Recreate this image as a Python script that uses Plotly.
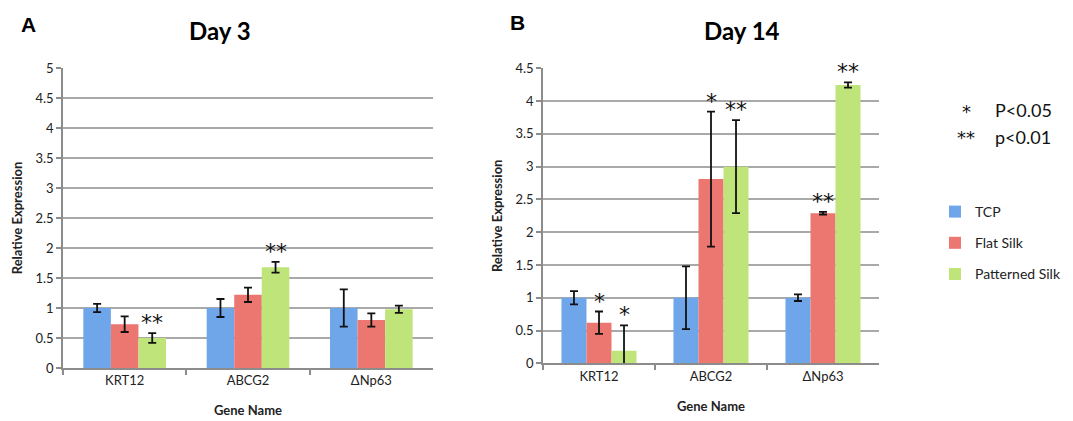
import plotly.graph_objects as go

genes = ["KRT12", "ABCG2", "ΔNp63"]
series = ["TCP", "Flat Silk", "Patterned Silk"]

day3_tcp = [1.00, 1.00, 1.00]
day3_tcp_err = [0.07, 0.15, 0.31]
day3_flat = [0.73, 1.22, 0.80]
day3_flat_err = [0.13, 0.12, 0.11]
day3_pat = [0.50, 1.68, 0.98]
day3_pat_err = [0.08, 0.09, 0.06]

day14_tcp = [1.00, 1.00, 1.00]
day14_tcp_err = [0.10, 0.48, 0.05]
day14_flat = [0.62, 2.81, 2.29]
day14_flat_err = [0.17, 1.03, 0.02]
day14_pat = [0.19, 3.00, 4.245]
day14_pat_err = [0.39, 0.71, 0.04]

day3_tcp_sig = ["", "", ""]
day3_flat_sig = ["", "", ""]
day3_pat_sig = ["**", "**", ""]
day14_tcp_sig = ["", "", ""]
day14_flat_sig = ["*", "*", "**"]
day14_pat_sig = ["*", "**", "**"]

colors = ["#6fa6ea", "#ec7670", "#bfe47a"]
FONT = "Lato"
STAR_FONT = "DejaVu Sans"

# page body has an 8px margin; lay the figure out in reference pixel coordinates
OFF = 8
W, H = 1073 - OFF, 421 - OFF


def px(x):
    return (x - OFF) / W


def py(y):
    return (H - (y - OFF)) / H


domA = [px(63), px(433)]
domB = [px(543), px(879)]
yA = [py(368), py(68)]
yB = [py(363.3), py(68.3)]
BARGAP = 0.33

fig = go.Figure()

panels = [
    ("x", "y", [day3_tcp, day3_flat, day3_pat], [day3_tcp_err, day3_flat_err, day3_pat_err],
     [day3_tcp_sig, day3_flat_sig, day3_pat_sig], False, domA),
    ("x2", "y2", [day14_tcp, day14_flat, day14_pat], [day14_tcp_err, day14_flat_err, day14_pat_err],
     [day14_tcp_sig, day14_flat_sig, day14_pat_sig], True, domB),
]

for xa, ya, vals, errs, sigs, showleg, dom in panels:
    plot_w = (dom[1] - dom[0]) * W
    bar_w = plot_w / len(genes) * (1 - BARGAP) / len(series)
    for k, (name, v, e, s) in enumerate(zip(series, vals, errs, sigs)):
        fig.add_trace(go.Bar(
            x=genes, y=v, name=name, xaxis=xa, yaxis=ya,
            marker=dict(color=colors[k], line=dict(width=0)),
            error_y=dict(type="data", array=e, color="#111111", thickness=1.8, width=4),
            showlegend=showleg, legendgroup=name,
        ))
        for g, val, err, lab in zip(genes, v, e, s):
            if lab:
                fig.add_annotation(
                    x=g, y=val + err, xref=xa, yref=ya, text=lab, showarrow=False,
                    xshift=(k - 1) * bar_w, yanchor="bottom", yshift=-4,
                    font=dict(family=STAR_FONT, size=22, color="#111111"),
                )

axis_common = dict(
    showline=True, linecolor="#8c8c8c", linewidth=1.5, ticks="outside",
    ticklen=5, tickcolor="#8c8c8c", tickwidth=1.5, automargin=False,
    tickfont=dict(family=FONT, size=13, color="#222222"),
)

fig.update_layout(
    width=W, height=H, plot_bgcolor="white", paper_bgcolor="white",
    margin=dict(l=0, r=0, t=0, b=0),
    barmode="group", bargap=BARGAP, bargroupgap=0,
    font=dict(family=FONT, color="#222222"),
    xaxis=dict(domain=domA, anchor="y", tickson="boundaries",
               title=dict(text="<b>Gene Name</b>", font=dict(family=FONT, size=13), standoff=19),
               **axis_common),
    yaxis=dict(domain=yA, anchor="x", range=[0, 5], dtick=0.5, showgrid=True,
               gridcolor="#a9a9a9", gridwidth=1.5, zeroline=False,
               title=dict(text="<b>Relative Expression</b>", font=dict(family=FONT, size=13), standoff=10),
               **axis_common),
    xaxis2=dict(domain=domB, anchor="y2", tickson="boundaries",
                title=dict(text="<b>Gene Name</b>", font=dict(family=FONT, size=13), standoff=19),
                **axis_common),
    yaxis2=dict(domain=yB, anchor="x2", range=[0, 4.5], dtick=0.5, showgrid=True,
                gridcolor="#a9a9a9", gridwidth=1.5, zeroline=False,
                title=dict(text="<b>Relative Expression</b>", font=dict(family=FONT, size=13), standoff=10),
                **axis_common),
    legend=dict(x=px(935), y=py(243), xanchor="left", yanchor="middle",
                font=dict(family=FONT, size=14, color="#222222"), itemwidth=30,
                traceorder="grouped", tracegroupgap=10, bgcolor="rgba(0,0,0,0)"),
)

ann = [
    dict(text="<b>A</b>", x=px(28), y=py(25), font=dict(family="Liberation Sans", size=21, color="black")),
    dict(text="<b>B</b>", x=px(517), y=py(22), font=dict(family="Liberation Sans", size=21, color="black")),
    dict(text="<b>Day 3</b>", x=px(220), y=py(30), font=dict(family=FONT, size=24, color="black")),
    dict(text="<b>Day 14</b>", x=px(742), y=py(30), font=dict(family=FONT, size=24, color="black")),
]
for a in ann:
    fig.add_annotation(xref="paper", yref="paper", showarrow=False, xanchor="center", yanchor="middle", **a)

for txt, x, y, anchor, fam in [("*", 966, 112, "center", STAR_FONT), ("P<0.05", 993, 110, "left", FONT),
                               ("**", 966, 137, "center", STAR_FONT), ("p<0.01", 993, 137, "left", FONT)]:
    fig.add_annotation(xref="paper", yref="paper", x=px(x), y=py(y), text=txt, showarrow=False,
                       xanchor=anchor, yanchor="middle", font=dict(family=fam, size=18, color="#111111"))

fig.write_html("out.html")
